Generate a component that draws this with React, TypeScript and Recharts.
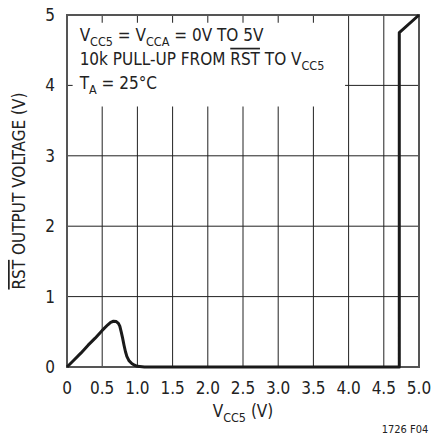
import { LineChart, Line, XAxis, YAxis, CartesianGrid, ReferenceArea } from "recharts";

// RST output voltage vs VCC5
const vcc5 = [
  0, 0.1, 0.2, 0.3, 0.4, 0.5, 0.58, 0.62, 0.66, 0.7, 0.73, 0.75, 0.77, 0.79, 0.81, 0.83, 0.85, 0.88,
  0.92, 0.96, 1.0, 1.1, 4.72, 4.72, 5.0,
];
const rstOut = [
  0, 0.1, 0.2, 0.31, 0.41, 0.52, 0.6, 0.635, 0.65, 0.645, 0.62, 0.58, 0.5, 0.41, 0.31, 0.22, 0.15, 0.09,
  0.05, 0.025, 0.01, 0, 0, 4.75, 5.0,
];
const xTicks = [0, 0.5, 1, 1.5, 2, 2.5, 3, 3.5, 4, 4.5, 5];
const yTicks = [0, 1, 2, 3, 4, 5];

const data = vcc5.map((v, i) => ({ x: v, y: rstOut[i] }));

const FONT = "'Liberation Sans Narrow', 'DejaVu Sans Condensed', Arial, sans-serif";
const INK = "#222";

const fmtX = (v: number) => (v === 0 ? "0" : v.toFixed(1));

// runs of text: [text, "sub" | "over" | undefined]
type Run = [string, string?];

const runs = (parts: Run[]) => {
  let lowered = false;
  return parts.map(([t, kind], i) => {
    const isSub = kind === "sub";
    let dy = 0;
    if (isSub && !lowered) dy = 5;
    if (!isSub && lowered) dy = -5;
    lowered = isSub;
    return (
      <tspan
        key={i}
        dy={dy || undefined}
        fontSize={isSub ? 12.5 : undefined}
        textDecoration={kind === "over" ? "overline" : undefined}
      >
        {t}
      </tspan>
    );
  });
};

const renderNote = (props: any) => {
  const { x, y } = props.viewBox;
  const left = x + 7;
  return (
    <g fontFamily={FONT} fontSize={17} fill={INK}>
      <text x={left} y={y + 18}>
        {runs([["V"], ["CC5", "sub"], [" = V"], ["CCA", "sub"], [" = 0V TO 5V"]])}
      </text>
      <text x={left} y={y + 42}>
        {runs([["10k PULL-UP FROM "], ["RST", "over"], [" TO V"], ["CC5", "sub"]])}
      </text>
      <text x={left} y={y + 66}>
        {runs([["T"], ["A", "sub"], [" = 25°C"]])}
      </text>
    </g>
  );
};

const renderXLabel = (props: any) => {
  const { x, y, width } = props.viewBox;
  return (
    <g>
      <text
        x={x + width / 2}
        y={y + 50}
        textAnchor="middle"
        fontFamily={FONT}
        fontSize={17}
        fill={INK}
      >
        {runs([["V"], ["CC5", "sub"], [" (V)"]])}
      </text>
      <text x={x + width - 14} y={y + 66} textAnchor="middle" fontFamily={FONT} fontSize={11} fill={INK}>
        1726 F04
      </text>
    </g>
  );
};

const renderYLabel = (props: any) => {
  const { x, y, height } = props.viewBox;
  const cx = x + 19;
  const cy = y + height / 2;
  return (
    <text
      x={cx}
      y={cy}
      transform={`rotate(-90 ${cx} ${cy})`}
      textAnchor="middle"
      dominantBaseline="central"
      fontFamily={FONT}
      fontSize={17}
      fill={INK}
    >
      {runs([["RST", "over"], [" OUTPUT VOLTAGE (V)"]])}
    </text>
  );
};

export default function App() {
  return (
    <div style={{ position: "absolute", left: 0, top: 0, background: "#fff" }}>
      <LineChart width={432} height={436} data={data} margin={{ top: 15, right: 13, bottom: 39, left: 0 }}>
        <CartesianGrid stroke={INK} strokeWidth={1} />
        <XAxis
          dataKey="x"
          type="number"
          domain={[0, 5]}
          ticks={xTicks}
          tickFormatter={fmtX}
          axisLine={false}
          tickLine={false}
          tickSize={0}
          tickMargin={15}
          height={30}
          interval={0}
          tick={{ fontFamily: FONT, fontSize: 17, fill: INK }}
          label={{ content: renderXLabel }}
        />
        <YAxis
          type="number"
          domain={[0, 5]}
          ticks={yTicks}
          axisLine={false}
          tickLine={false}
          tickSize={0}
          tickMargin={12}
          width={67}
          interval={0}
          tick={{ fontFamily: FONT, fontSize: 17, fill: INK }}
          label={{ content: renderYLabel }}
        />
        <ReferenceArea
          x1={0.08}
          x2={3.95}
          y1={3.7}
          y2={4.89}
          fill="#fff"
          fillOpacity={1}
          stroke="none"
          label={{ content: renderNote }}
        />
        <Line
          dataKey="y"
          type="linear"
          stroke="#1a1a1a"
          strokeWidth={3}
          strokeLinejoin="round"
          dot={false}
          isAnimationActive={false}
        />
        <ReferenceArea x1={0} x2={5} y1={0} y2={5} fill="none" stroke="#555" strokeWidth={2} />
      </LineChart>
    </div>
  );
}
